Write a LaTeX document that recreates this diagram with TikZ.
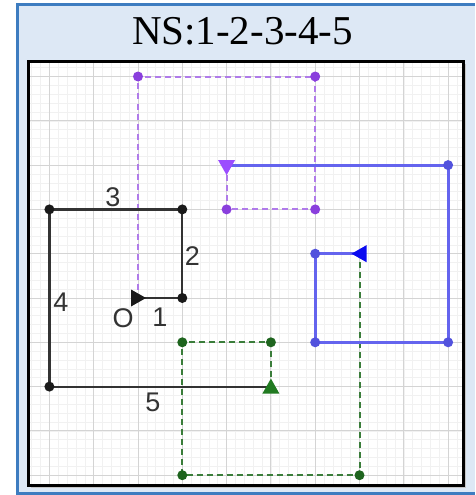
\documentclass[tikz,border=0pt]{standalone}
\usepackage{fontspec}
\setmainfont{Liberation Serif}
\newfontfamily\labelfont{Liberation Sans}
\definecolor{panelfill}{HTML}{DDE8F5}
\definecolor{panelblue}{HTML}{3D7CC0}
\definecolor{gridmin}{HTML}{F1F1F1}
\definecolor{gridmaj}{HTML}{D4D4D4}
\definecolor{blk}{HTML}{333333}
\definecolor{blkdot}{HTML}{1A1A1A}
\definecolor{purline}{HTML}{B07BEA}
\definecolor{purdot}{HTML}{8A3FDD}
\definecolor{purarrow}{HTML}{9B4DFF}
\definecolor{bluline}{HTML}{6464EE}
\definecolor{bludot}{HTML}{5252DD}
\definecolor{bluarrow}{HTML}{0A0AF0}
\definecolor{grnline}{HTML}{3A7D3A}
\definecolor{grndot}{HTML}{1E641E}
\definecolor{grnarrow}{HTML}{217A21}
\tikzset{
  dot/.style={circle, inner sep=0pt, minimum size=10pt},
  tri/.pic={\fill (8pt,0pt) -- (-7pt,8.5pt) -- (-7pt,-8.5pt) -- cycle;},
  solidline/.style={line width=2.2pt, line join=round},
  dashline/.style={line width=2pt, dash pattern=on 6pt off 4pt},
  lab/.style={font=\labelfont\fontsize{27}{27}\selectfont, text=blk, inner sep=0pt},
}
\begin{document}
\begin{tikzpicture}[x=1pt,y=-1pt]
\useasboundingbox (0,0) rectangle (475,495);
% panel
\fill[panelfill] (17.5,4.5) rectangle (475,493.5);
\draw[panelblue, line width=3pt] (475,4.5) -- (17.5,4.5) -- (17.5,493.5) -- (475,493.5);
% title
\node[anchor=base, font=\fontsize{41}{41}\selectfont, text=black, inner sep=0pt] (title) at (242.5,45) {NS:1-2-3-4-5};
% frame shadow and inner area
\fill[gray!45] (30.5,64.5) rectangle (466,488);
\fill[white] (28,62) rectangle (463,485);
\begin{scope}
\clip (28,62) rectangle (463,485);
\begin{scope}[shift={(138,298)}, x=44.3pt, y=44.3pt]
\draw[gridmin, line width=0.6pt, step=0.2] (-4,-6) grid (9,7);
\draw[gridmaj, line width=0.9pt, step=1] (-4,-6) grid (9,7);
% coordinates
\coordinate (O) at (0,0);
\coordinate (b1) at (1,0);
\coordinate (b2) at (1,2);
\coordinate (b3) at (-2,2);
\coordinate (b4) at (-2,-2);
\coordinate (g0) at (3,-2);
\coordinate (g1) at (3,-1);
\coordinate (g2) at (1,-1);
\coordinate (g3) at (1,-4);
\coordinate (g4) at (5,-4);
\coordinate (u0) at (5,1);
\coordinate (u1) at (4,1);
\coordinate (u2) at (4,-1);
\coordinate (u3) at (7,-1);
\coordinate (u4) at (7,3);
\coordinate (p0) at (2,3);
\coordinate (p1) at (2,2);
\coordinate (p2) at (4,2);
\coordinate (p3) at (4,5);
\coordinate (p4) at (0,5);
% connectors
\draw[purline, dashline] (p0) -- (p1) -- (p2) -- (p3) -- (p4) -- (O);
\draw[grnline, dashline] (g0) -- (g1) -- (g2) -- (g3) -- (g4) -- (u0);
\draw[bluline, solidline, line width=2.8pt] (u0) -- (u1) -- (u2) -- (u3) -- (u4) -- (p0);
\draw[blk, solidline] (O) -- (b1) -- (b2) -- (b3) -- (b4) -- (g0);
% dots
\foreach \p in {b1,b2,b3,b4} \node[dot, fill=blkdot] (d\p) at (\p) {};
\foreach \p in {g1,g2,g3,g4} \node[dot, fill=grndot] (d\p) at (\p) {};
\foreach \p in {u1,u2,u3,u4} \node[dot, fill=bludot] (d\p) at (\p) {};
\foreach \p in {p1,p2,p3,p4} \node[dot, fill=purdot] (d\p) at (\p) {};
% arrowheads
\pic[blkdot] at (O) {tri};
\pic[grnarrow, rotate=90] at (g0) {tri};
\pic[bluarrow, rotate=180] at (u0) {tri};
\pic[purarrow, rotate=-90] at ([yshift=-2pt]p0) {tri};
\end{scope}
\end{scope}
\draw[black, line width=3pt] (28,62) rectangle (463,485);
% labels
\node[lab] (l3) at (113,197) {3};
\node[lab] (l2) at (192.5,256) {2};
\node[lab] (l4) at (61,302) {4};
\node[lab] (lO) at (123,318) {O};
\node[lab] (l1) at (160,317.5) {1};
\node[lab] (l5) at (153,402) {5};
\end{tikzpicture}
\end{document}
